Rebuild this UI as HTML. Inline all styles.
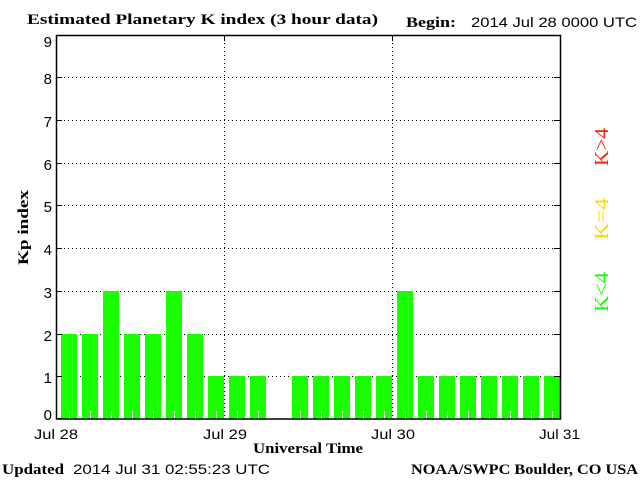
<!DOCTYPE html>
<html><head><style>body{margin:0;background:#fff}svg{display:block}</style></head><body>
<svg width="640" height="480" xmlns="http://www.w3.org/2000/svg" font-family="Liberation Sans, sans-serif">
<rect width="640" height="480" fill="#fff"/>
<text x="27" y="24" font-family="Liberation Serif, serif" font-weight="bold" font-size="15" textLength="351" lengthAdjust="spacingAndGlyphs">Estimated Planetary K index (3 hour data)</text>
<text x="406" y="27" font-family="Liberation Serif, serif" font-weight="bold" font-size="15" textLength="50" lengthAdjust="spacingAndGlyphs">Begin:</text>
<text x="471" y="27" font-size="14" textLength="166" lengthAdjust="spacingAndGlyphs">2014 Jul 28 0000 UTC</text>
<g stroke="#000" stroke-dasharray="1,3" stroke-width="1">
<line x1="56" x2="560" y1="77.5" y2="77.5"/><line x1="56" x2="560" y1="120.5" y2="120.5"/>
<line x1="56" x2="560" y1="163.5" y2="163.5"/><line x1="56" x2="560" y1="205.5" y2="205.5"/>
<line x1="56" x2="560" y1="248.5" y2="248.5"/><line x1="56" x2="560" y1="291.5" y2="291.5"/>
<line x1="56" x2="560" y1="334.5" y2="334.5"/><line x1="56" x2="560" y1="376.5" y2="376.5"/>
<line x1="224.5" x2="224.5" y1="35" y2="419"/><line x1="392.5" x2="392.5" y1="35" y2="419"/>
</g>
<g fill="#1aff00">
<rect x="61" y="334" width="16" height="85"/><rect x="82" y="334" width="16" height="85"/>
<rect x="103" y="291" width="16" height="128"/><rect x="124" y="334" width="16" height="85"/>
<rect x="145" y="334" width="16" height="85"/><rect x="166" y="291" width="16" height="128"/>
<rect x="187" y="334" width="16" height="85"/><rect x="208" y="376" width="16" height="43"/>
<rect x="229" y="376" width="16" height="43"/><rect x="250" y="376" width="16" height="43"/>
<rect x="292" y="376" width="16" height="43"/><rect x="313" y="376" width="16" height="43"/>
<rect x="334" y="376" width="16" height="43"/><rect x="355" y="376" width="16" height="43"/>
<rect x="376" y="376" width="16" height="43"/><rect x="397" y="291" width="16" height="128"/>
<rect x="418" y="376" width="16" height="43"/><rect x="439" y="376" width="16" height="43"/>
<rect x="460" y="376" width="16" height="43"/><rect x="481" y="376" width="16" height="43"/>
<rect x="502" y="376" width="16" height="43"/><rect x="523" y="376" width="16" height="43"/>
<rect x="544" y="376" width="16" height="43"/>
</g>
<g stroke="#fff" stroke-width="1">
<path d="M69.5 411v8M90.5 411v8M111.5 411v8M132.5 411v8M153.5 411v8M174.5 411v8M195.5 411v8M216.5 411v8M237.5 411v8M258.5 411v8M300.5 411v8M321.5 411v8M342.5 411v8M363.5 411v8M384.5 411v8M405.5 411v8M426.5 411v8M447.5 411v8M468.5 411v8M489.5 411v8M510.5 411v8M531.5 411v8M552.5 411v8"/>
</g>
<rect x="56.5" y="35.5" width="504" height="383.5" fill="none" stroke="#000" stroke-width="1.5"/>
<g stroke="#000">
<path d="M56 77.5h6M56 120.5h6M56 163.5h6M56 205.5h6M56 248.5h6M56 291.5h6M56 334.5h6M56 376.5h6M56 418.5h6"/>
<path d="M554 77.5h6M554 120.5h6M554 163.5h6M554 205.5h6M554 248.5h6M554 291.5h6M554 334.5h6M554 376.5h6"/>
<path d="M224.5 35v6M392.5 35v6"/>
</g>
<g font-size="15" text-anchor="end">
<text x="52" y="47">9</text><text x="52" y="84">8</text><text x="52" y="127">7</text>
<text x="52" y="170">6</text><text x="52" y="212">5</text><text x="52" y="255">4</text>
<text x="52" y="298">3</text><text x="52" y="341">2</text><text x="52" y="383">1</text><text x="52" y="420">0</text>
</g>
<g font-size="14">
<text x="34" y="439" textLength="44" lengthAdjust="spacingAndGlyphs">Jul 28</text><text x="203" y="439" textLength="44" lengthAdjust="spacingAndGlyphs">Jul 29</text>
<text x="371" y="439" textLength="44" lengthAdjust="spacingAndGlyphs">Jul 30</text><text x="539" y="439" textLength="41" lengthAdjust="spacingAndGlyphs">Jul 31</text>
</g>
<text x="253" y="453" font-family="Liberation Serif, serif" font-weight="bold" font-size="15" textLength="110" lengthAdjust="spacingAndGlyphs">Universal Time</text>
<text transform="translate(28,265) rotate(-90)" font-family="Liberation Serif, serif" font-weight="bold" font-size="15" textLength="75" lengthAdjust="spacingAndGlyphs">Kp index</text>
<text x="2" y="474" font-family="Liberation Serif, serif" font-weight="bold" font-size="15" textLength="62" lengthAdjust="spacingAndGlyphs">Updated</text>
<text x="73" y="474" font-size="14" textLength="197" lengthAdjust="spacingAndGlyphs">2014 Jul 31 02:55:23 UTC</text>
<text x="411" y="474" font-family="Liberation Serif, serif" font-weight="bold" font-size="15" textLength="227" lengthAdjust="spacingAndGlyphs">NOAA/SWPC Boulder, CO USA</text>
<g font-family="Liberation Serif, serif" font-size="20">
<text transform="translate(608,166) rotate(-90)" fill="#ff2000" textLength="38" lengthAdjust="spacingAndGlyphs">K&gt;4</text>
<text transform="translate(608,240) rotate(-90)" fill="#ffd700" textLength="42" lengthAdjust="spacingAndGlyphs">K=4</text>
<text transform="translate(608,312) rotate(-90)" fill="#1aff00" textLength="40" lengthAdjust="spacingAndGlyphs">K&lt;4</text>
</g>
</svg>
</body></html>
